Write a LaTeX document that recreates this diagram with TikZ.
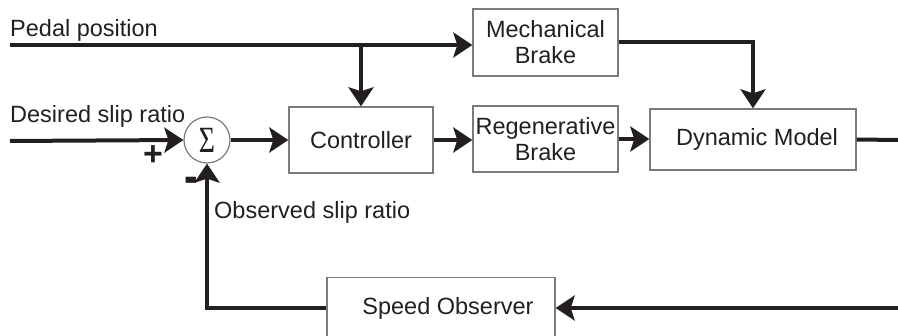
\documentclass[tikz,border=0pt]{standalone}
\usepackage{fontspec}
\setmainfont{Liberation Sans}
\newfontfamily\sigfont{Liberation Serif}
\usetikzlibrary{arrows.meta}
\definecolor{ink}{HTML}{231F20}
\definecolor{boxline}{HTML}{7A7A7A}
\tikzset{
  blk/.style={draw=boxline, line width=1.4pt, fill=white, inner sep=0pt, align=center,
    font=\fontsize{23.5}{26}\selectfont, text=ink},
  lbl/.style={inner sep=0pt, font=\fontsize{23.5}{26}\selectfont, text=ink},
  sig/.style={inner sep=0pt, font=\fontsize{34}{34}\selectfont\bfseries, text=ink},
  conn/.style={draw=ink, line width=4pt},
  arr/.style={conn, -{Stealth[length=19pt,width=25pt,inset=4pt]}},
}
\begin{document}
\begin{tikzpicture}[x=1pt,y=-1pt]
\useasboundingbox (0,0) rectangle (898,336);
\clip (0,0) rectangle (898,336);

% blocks
\node[blk, minimum width=144pt, minimum height=66pt] (ctrl) at (361,140) {Controller};
\node[blk, minimum width=145pt, minimum height=67pt] (mech) at (545.5,42.5) {Mechanical\\Brake};
\node[blk, minimum width=145pt, minimum height=66pt] (regen) at (545.5,139) {Regenerative\\Brake};
\node[blk, minimum width=206pt, minimum height=61pt] (dyn) at (753,139.5) {\hspace*{8pt}Dynamic Model};
\node[blk, minimum width=228pt, minimum height=62pt] (obs) at (441,308.5) {\hspace*{14pt}Speed Observer};
\node[draw=boxline, line width=1.2pt, circle, minimum size=46pt, inner sep=0pt, fill=white] (sum) at (207,140) {};
\node[inner sep=0pt, text=ink] (sigma) at (207,140.5) {\scalebox{0.75}[1]{\sigfont\fontsize{37}{37}\selectfont Σ}};

% labels
\node[lbl, anchor=base west] (lp) at (10,37) {Pedal position};
\node[lbl, anchor=base west] (ld) at (10,123) {Desired slip ratio};
\node[lbl, anchor=base west] (lo) at (214,219) {Observed slip ratio};
\node[sig] (plus) at (153,156) {+};
\node[sig] (minus) at (191,185) {\scalebox{1.2}[1.5]{-}};

% free ends
\coordinate (pin) at (10,45);
\coordinate (din) at (10,141);
\coordinate (yout) at (898,140);
\coordinate (fin) at (898,308);

% connectors
\draw[arr] (pin) -- (pin -| mech.west);
\draw[arr] (pin -| ctrl.north) -- (ctrl.north);
\draw[arr] (din) -- (sum.west);
\draw[arr] (sum.east) -- (ctrl.west);
\draw[arr] (ctrl.east) -- (ctrl.east -| regen.west);
\draw[arr] (regen.east) -- (regen.east -| dyn.west);
\draw[arr] (mech.east) -| (dyn.north);
\draw[conn] (dyn.east) -- (yout);
\draw[arr] (fin) -- (fin -| obs.east);
\draw[arr] (fin -| obs.west) -| (sum.south);
\end{tikzpicture}
\end{document}
